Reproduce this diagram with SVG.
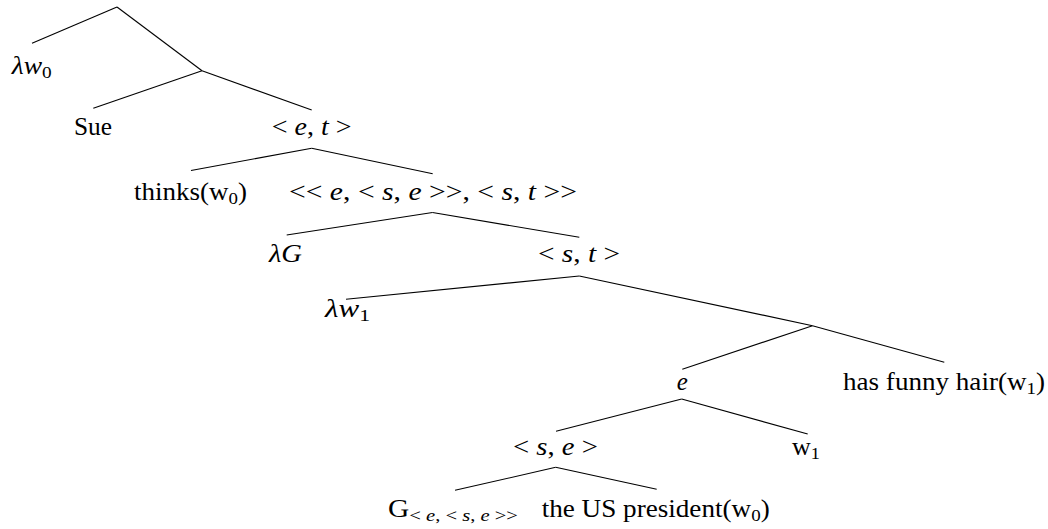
<svg xmlns="http://www.w3.org/2000/svg" width="1048" height="529" viewBox="0 0 1048 529">
<style>
.t{font-family:"Liberation Serif","Times New Roman",serif;font-size:25px;fill:#000}
.i{font-style:italic}
.s{font-size:17.5px}
.c line{stroke:#000;stroke-width:1.1;fill:none}
</style>
<rect width="1048" height="529" fill="#fff"/>
<g class="c" id="connectors">
<line x1="117" y1="7" x2="32" y2="43.3"/>
<line x1="117" y1="7" x2="202" y2="70.7"/>
<line x1="202" y1="70.7" x2="93.3" y2="108.3"/>
<line x1="202" y1="70.7" x2="311.7" y2="110"/>
<line x1="311.7" y1="148.3" x2="191" y2="170.5"/>
<line x1="311.7" y1="148.3" x2="432.7" y2="173.7"/>
<line x1="432.5" y1="212.5" x2="286.7" y2="235"/>
<line x1="432.5" y1="212.5" x2="579.3" y2="237.3"/>
<line x1="579.3" y1="276" x2="346" y2="299.3"/>
<line x1="579.3" y1="276" x2="812.5" y2="325.7"/>
<line x1="812.5" y1="325.7" x2="682.3" y2="369.3"/>
<line x1="812.5" y1="325.7" x2="944.3" y2="362.3"/>
<line x1="681.7" y1="399" x2="556" y2="431.3"/>
<line x1="681.7" y1="399" x2="807.7" y2="434"/>
<line x1="555.7" y1="467.3" x2="455" y2="490.3"/>
<line x1="555.7" y1="467.3" x2="656.7" y2="489.3"/>
</g>
<g id="n-lw0"><text class="t" x="11.7" y="73.5" textLength="40" lengthAdjust="spacingAndGlyphs"><tspan class="i">λw</tspan><tspan class="s" dy="4">0</tspan></text></g>
<g id="n-sue"><text class="t" x="74" y="134.5" textLength="38" lengthAdjust="spacingAndGlyphs">Sue</text></g>
<g id="n-et"><text class="t" x="271.7" y="135" textLength="80" lengthAdjust="spacingAndGlyphs">&lt; <tspan class="i">e</tspan>, <tspan class="i">t</tspan> &gt;</text></g>
<g id="n-thinks"><text class="t" x="134" y="200" textLength="113" lengthAdjust="spacingAndGlyphs">thinks(w<tspan class="s" dy="4">0</tspan><tspan dy="-4">)</tspan></text></g>
<g id="n-big"><text class="t" x="289" y="200" textLength="288" lengthAdjust="spacingAndGlyphs">&lt;&lt; <tspan class="i">e</tspan>, &lt; <tspan class="i">s</tspan>, <tspan class="i">e</tspan> &gt;&gt;, &lt; <tspan class="i">s</tspan>, <tspan class="i">t</tspan> &gt;&gt;</text></g>
<g id="n-lG"><text class="t i" x="269" y="261.7" textLength="33" lengthAdjust="spacingAndGlyphs">λG</text></g>
<g id="n-st"><text class="t" x="538" y="262" textLength="82" lengthAdjust="spacingAndGlyphs">&lt; <tspan class="i">s</tspan>, <tspan class="i">t</tspan> &gt;</text></g>
<g id="n-lw1"><text class="t" x="325" y="317" textLength="45" lengthAdjust="spacingAndGlyphs"><tspan class="i">λw</tspan><tspan class="s" dy="4">1</tspan></text></g>
<g id="n-e"><text class="t i" x="676.7" y="390">e</text></g>
<g id="n-hair"><text class="t" x="843" y="390" textLength="202" lengthAdjust="spacingAndGlyphs">has funny hair(w<tspan class="s" dy="4">1</tspan><tspan dy="-4">)</tspan></text></g>
<g id="n-w1"><text class="t" x="792" y="455" textLength="28" lengthAdjust="spacingAndGlyphs">w<tspan class="s" dy="4">1</tspan></text></g>
<g id="n-se"><text class="t" x="513" y="455" textLength="85" lengthAdjust="spacingAndGlyphs">&lt; <tspan class="i">s</tspan>, <tspan class="i">e</tspan> &gt;</text></g>
<g id="n-G"><text class="t" x="388" y="516.5" textLength="130" lengthAdjust="spacingAndGlyphs">G<tspan class="s" dy="4">&lt; <tspan class="i">e</tspan>, &lt; <tspan class="i">s</tspan>, <tspan class="i">e</tspan> &gt;&gt;</tspan></text></g>
<g id="n-pres"><text class="t" x="541.7" y="516.5" textLength="228" lengthAdjust="spacingAndGlyphs">the US president(w<tspan class="s" dy="4">0</tspan><tspan dy="-4">)</tspan></text></g>
</svg>
